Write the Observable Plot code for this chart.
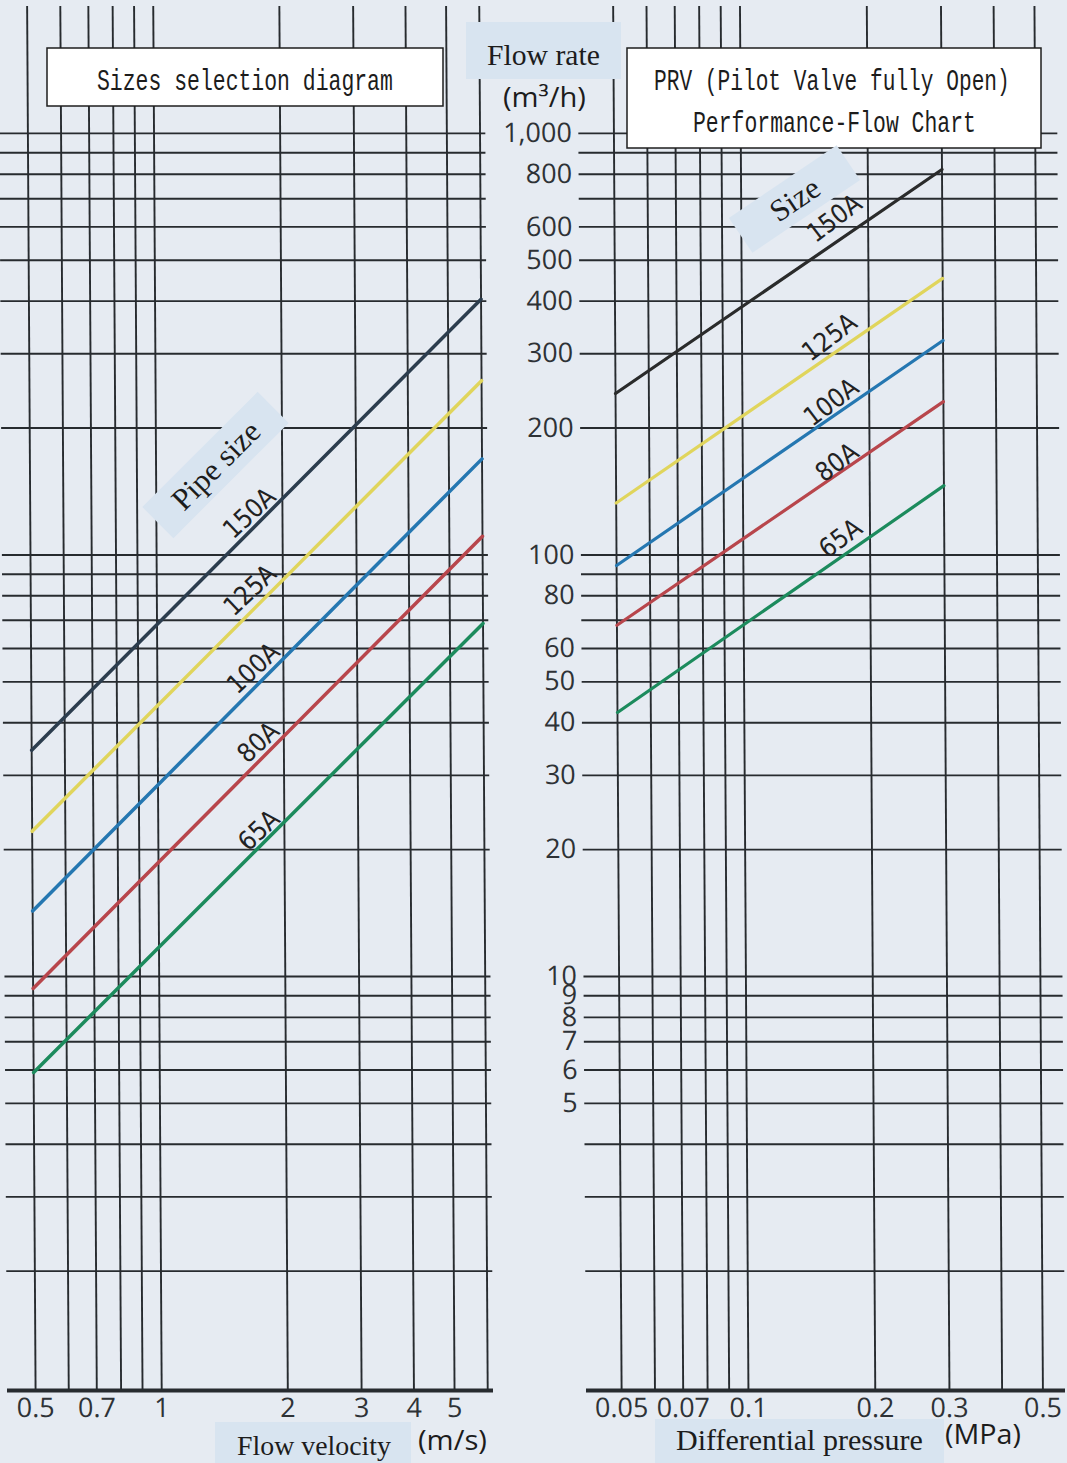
<!DOCTYPE html>
<html>
<head>
<meta charset="utf-8">
<script src="https://cdn.jsdelivr.net/npm/d3@7"></script>
<script src="https://cdn.jsdelivr.net/npm/@observablehq/plot@0.6"></script>
<style>
  html, body { margin: 0; padding: 0; background: #e6ebf2; }
  #wrap { position: relative; width: 1067px; height: 1463px; overflow: hidden; background: #e6ebf2; }
  #left, #right { position: absolute; top: 0; }
  #left { left: 0; width: 500px; }
  #right { left: 493px; width: 574px; }
  #left > svg, #right > svg { transform-origin: 0 1390px; transform: skewX(0.35deg); overflow: visible; }
  #overlay { position: absolute; left: 0; top: 0; pointer-events: none; }
</style>
</head>
<body>
<div id="wrap">
  <div id="left"></div>
  <div id="right"></div>
  <svg id="overlay" width="1067" height="1463"></svg>
</div>
<script>
// ---------- data ----------
const sizes = ["150A", "125A", "100A", "80A", "65A"];

// Left panel: flow velocity (m/s) -> flow rate (m3/h)
const velocityRange = [0.5, 6];
const flowAtVelocityMin = [34.4, 22.1, 14.3, 9.37, 5.92];
const flowAtVelocityMax = [404, 259, 169, 110.7, 68.8];

// Right panel: differential pressure (MPa) -> flow rate (m3/h)
const pressureRange = [0.05, 0.3];
const flowAtPressureMin = [241.5, 132.8, 94.4, 68.1, 42.3];
const flowAtPressureMax = [821, 453, 322.6, 231, 146];

// axes / grid
const velocityTicks = [0.5, 0.7, 1, 2, 3, 4, 5];
const velocityGrid = [0.5, 0.6, 0.7, 0.8, 0.9, 1, 2, 3, 4, 5, 6];
const pressureTicks = [0.05, 0.07, 0.1, 0.2, 0.3, 0.5];
const pressureGrid = [0.05, 0.06, 0.07, 0.08, 0.09, 0.1, 0.2, 0.3, 0.4, 0.5];
const flowTicks = [5, 6, 7, 8, 9, 10, 20, 30, 40, 50, 60, 80, 100, 200, 300, 400, 500, 600, 800, 1000];
const flowGrid = [2, 3, 4, 5, 6, 7, 8, 9, 10, 20, 30, 40, 50, 60, 70, 80, 90, 100, 200, 300, 400, 500, 600, 700, 800, 900, 1000];
const flowDomain = [1.042, 2000];
const velocityDomain = [0.4285, 6.194];
const pressureDomain = [0.04127, 0.5657];

// line label anchors
const labelVelocity = [1.67, 1.67, 1.698, 1.74, 1.74];
const labelVelocityFlow = [125.5, 82.4, 53.8, 35.9, 22.2];
const labelPressure = [0.1664, 0.1614, 0.1626, 0.1675, 0.1703];
const labelPressureFlow = [628, 328, 230, 165.7, 109.4];

const leftColors = ["#2c3d4e", "#e0d55c", "#2577b1", "#b8464c", "#1c8b5d"];
const rightColors = ["#2a2b2b", "#e0d55c", "#2577b1", "#b8464c", "#1c8b5d"];

// ---------- build rows ----------
const velRows = sizes.flatMap((s, i) => [
  {size: s, v: velocityRange[0], q: flowAtVelocityMin[i]},
  {size: s, v: velocityRange[1], q: flowAtVelocityMax[i]}
]);
const dpRows = sizes.flatMap((s, i) => [
  {size: s, p: pressureRange[0], q: flowAtPressureMin[i]},
  {size: s, p: pressureRange[1], q: flowAtPressureMax[i]}
]);
const velLabels = sizes.map((s, i) => ({size: s, v: labelVelocity[i], q: labelVelocityFlow[i]}));
const dpLabels = sizes.map((s, i) => ({size: s, p: labelPressure[i], q: labelPressureFlow[i]}));

const gridColor = "#272b2f";
const gridWidth = 1.9;
const tickFont = "'Open Sans', 'Noto Sans', sans-serif";
const narrowFont = "'Liberation Sans Narrow', 'DejaVu Sans Condensed', 'Liberation Sans', sans-serif";

const left = Plot.plot({
  width: 500, height: 1463,
  marginLeft: 7, marginRight: 7, marginTop: 6, marginBottom: 73,
  style: {background: "transparent", fontFamily: tickFont, fontSize: "27px", color: "#2e3236"},
  x: {type: "log", domain: velocityDomain, ticks: velocityTicks, tickFormat: d => String(d), tickSize: 0, tickPadding: 7, label: null},
  y: {type: "log", domain: flowDomain, axis: null},
  color: {domain: sizes, range: leftColors},
  marks: [
    Plot.ruleY(flowGrid, {stroke: gridColor, strokeWidth: gridWidth}),
    Plot.ruleX(velocityGrid, {stroke: gridColor, strokeWidth: gridWidth}),
    Plot.ruleY([flowDomain[0]], {stroke: gridColor, strokeWidth: 4}),
    Plot.line(velRows, {x: "v", y: "q", z: "size", stroke: "size", strokeWidth: 3.5}),
    Plot.text(velLabels, {x: "v", y: "q", text: "size", rotate: -43, fontSize: 26, fontFamily: narrowFont, fill: "#222"})
  ]
});
document.getElementById("left").appendChild(left);

const right = Plot.plot({
  width: 574, height: 1463,
  marginLeft: 93, marginRight: 2, marginTop: 6, marginBottom: 73,
  style: {background: "transparent", fontFamily: tickFont, fontSize: "27px", color: "#2e3236"},
  x: {type: "log", domain: pressureDomain, ticks: pressureTicks, tickFormat: d => String(d), tickSize: 0, tickPadding: 7, label: null},
  y: {type: "log", domain: flowDomain, axis: null},
  color: {domain: sizes, range: rightColors},
  marks: [
    Plot.ruleY(flowGrid, {stroke: gridColor, strokeWidth: gridWidth}),
    Plot.ruleX(pressureGrid, {stroke: gridColor, strokeWidth: gridWidth}),
    Plot.ruleY([flowDomain[0]], {stroke: gridColor, strokeWidth: 4}),
    Plot.text(flowTicks, {y: d => d, frameAnchor: "left", text: d => d3.format(",")(d), textAnchor: "end", dx: -7, fontSize: 27, fill: "#2e3236"}),
    Plot.line(dpRows, {x: "p", y: "q", z: "size", stroke: "size", strokeWidth: 3.2}),
    Plot.text(dpLabels, {x: "p", y: "q", text: "size", rotate: -37, fontSize: 26, fontFamily: narrowFont, fill: "#222"})
  ]
});
document.getElementById("right").appendChild(right);

// ---------- annotation overlay (titles, axis captions) ----------
const ov = d3.select("#overlay");
const serif = "'Liberation Serif', 'DejaVu Serif', serif";
const mono = "'Liberation Mono', 'DejaVu Sans Mono', monospace";
const paleBlue = "#d8e4f0";

const boxes = [
  {x: 47, y: 48, w: 396, h: 58, fill: "#fff", stroke: "#1e1e1e"},
  {x: 627, y: 48, w: 414, h: 100, fill: "#fff", stroke: "#1e1e1e"},
  {x: 466, y: 22, w: 155, h: 57, fill: paleBlue, stroke: "none"},
  {x: 215, y: 1422, w: 196, h: 41, fill: paleBlue, stroke: "none"},
  {x: 655, y: 1419, w: 289, h: 44, fill: paleBlue, stroke: "none"}
];
ov.selectAll("rect.b").data(boxes).join("rect")
  .attr("x", d => d.x).attr("y", d => d.y).attr("width", d => d.w).attr("height", d => d.h)
  .attr("fill", d => d.fill).attr("stroke", d => d.stroke).attr("stroke-width", 1.5);

const texts = [
  {t: "Sizes selection diagram", x: 97, y: 90, len: 296, f: mono, s: 30},
  {t: "PRV (Pilot Valve fully Open)", x: 654, y: 90, len: 356, f: mono, s: 30},
  {t: "Performance-Flow Chart", x: 693, y: 132, len: 283, f: mono, s: 30},
  {t: "Flow rate", x: 487, y: 65, len: 113, f: serif, s: 29},
  {t: "(m³/h)", x: 503, y: 107, len: 83, f: tickFont, s: 27},
  {t: "Flow velocity", x: 237, y: 1455, len: 154, f: serif, s: 28},
  {t: "(m/s)", x: 418, y: 1450, len: 69, f: tickFont, s: 27},
  {t: "Differential pressure", x: 676, y: 1450, len: 247, f: serif, s: 30},
  {t: "(MPa)", x: 945, y: 1444, len: 76, f: tickFont, s: 27}
];
ov.selectAll("text.t").data(texts).join("text")
  .attr("font-family", d => d.f).attr("font-size", d => d.s)
  .attr("fill", "#1c1c1c").text(d => d.t)
  .attr("transform", function (d) {
    const natural = this.getComputedTextLength() || d.len;
    return `translate(${d.x},${d.y}) scale(${d.len / natural},1)`;
  });

const tags = [
  {t: "Pipe size", cx: 215.5, cy: 465, w: 163, h: 44, rot: -45},
  {t: "Size", cx: 794.5, cy: 199, w: 130, h: 42, rot: -34}
];
const tg = ov.selectAll("g.tag").data(tags).join("g")
  .attr("transform", d => `translate(${d.cx},${d.cy}) rotate(${d.rot})`);
tg.append("rect").attr("x", d => -d.w / 2).attr("y", d => -d.h / 2)
  .attr("width", d => d.w).attr("height", d => d.h).attr("fill", paleBlue);
tg.append("text").attr("text-anchor", "middle").attr("dy", "0.35em")
  .attr("font-family", serif).attr("font-size", 31).attr("fill", "#1c1c1c")
  .text(d => d.t);
</script>
</body>
</html>
